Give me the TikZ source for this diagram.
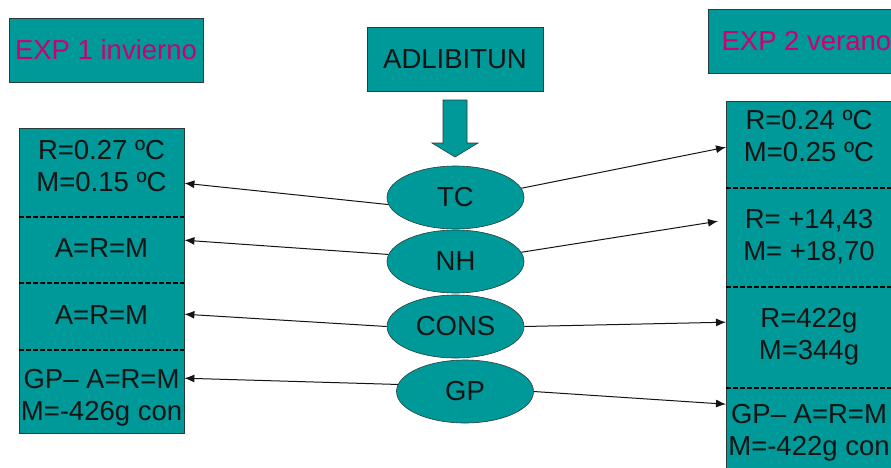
\documentclass[tikz,border=0pt]{standalone}
\usepackage{fontspec}
\setmainfont{Liberation Sans}
\usetikzlibrary{shapes.geometric,arrows.meta,calc}
\definecolor{tealfill}{RGB}{0,153,153}
\definecolor{edgecol}{RGB}{40,60,60}
\definecolor{titlecol}{RGB}{204,0,110}
\definecolor{txtcol}{RGB}{20,20,20}
\begin{document}
\begin{tikzpicture}[x=1pt,y=-1pt,
  bigtext/.style={font=\fontsize{27.5}{32}\selectfont, text=txtcol},
  titlebox/.style={draw=edgecol, fill=tealfill, line width=0.8pt, inner sep=0pt, font=\fontsize{27.5}{32}\selectfont},
  cell/.style={fill=tealfill, inner sep=0pt, anchor=north west},
  txt/.style={bigtext, align=center, inner sep=0pt},
  oval/.style={ellipse, draw=edgecol, fill=tealfill, line width=0.6pt, inner sep=0pt, minimum width=137pt, minimum height=63pt, bigtext},
  sep/.style={draw=black, dash pattern=on 4.5pt off 2.5pt, line width=2pt},
  conn/.style={draw=txtcol, line width=1pt, -{Latex[length=10pt,width=8pt]}}
]
\clip (0,0) rectangle (891,467);
\fill[white] (0,0) rectangle (891,467);

% title boxes
\node[titlebox, minimum width=194pt, minimum height=64pt, text=titlecol] (t1) at (106,50) {EXP 1 invierno};
\node[titlebox, minimum width=187pt, minimum height=64pt, text=titlecol, anchor=north west] (t2) at (708,9) {\hspace*{9pt}EXP 2 verano};
\node[titlebox, minimum width=176pt, minimum height=64pt, text=txtcol] (ad) at (455,59) {ADLIBITUN};

% block arrow
\draw[edgecol, fill=tealfill, line width=0.6pt] (443,100) -- (467,100) -- (467,143) -- (478,143) -- (455,157) -- (432,143) -- (443,143) -- cycle;

% left stack
\node[cell, minimum width=165pt, minimum height=89pt] (l1) at (19,128) {};
\node[cell, minimum width=165pt, minimum height=66pt] (l2) at (19,217) {};
\node[cell, minimum width=165pt, minimum height=67pt] (l3) at (19,283) {};
\node[cell, minimum width=165pt, minimum height=83pt] (l4) at (19,350) {};
\draw[edgecol, line width=0.8pt] (l1.north west) rectangle (l4.south east);
\draw[sep] (l1.south west) -- (l1.south east);
\draw[sep] (l2.south west) -- (l2.south east);
\draw[sep] (l3.south west) -- (l3.south east);
\node[txt] (lt1) at (101.5,166) {R=0.27 ºC\\M=0.15 ºC};
\node[txt] (lt2) at (101.5,248) {A=R=M};
\node[txt] (lt3) at (101.5,315) {A=R=M};
\node[txt] (lt4) at (101.5,397.5) {GP– A=R=M\\M=-426g con};

% right stack
\node[cell, minimum width=170pt, minimum height=87pt] (r1) at (726,101) {};
\node[cell, minimum width=170pt, minimum height=99pt] (r2) at (726,188) {};
\node[cell, minimum width=170pt, minimum height=101pt] (r3) at (726,287) {};
\node[cell, minimum width=170pt, minimum height=92pt] (r4) at (726,388) {};
\draw[edgecol, line width=0.8pt] (r1.north west) rectangle (r4.south east);
\draw[sep] (r1.south west) -- (r1.south east);
\draw[sep] (r2.south west) -- (r2.south east);
\draw[sep] (r3.south west) -- (r3.south east);
\node[txt] (rt1) at (809,136.5) {R=0.24 ºC\\M=0.25 ºC};
\node[txt] (rt2) at (809,237) {R= +14,43\\M= +18,70};
\node[txt] (rt3) at (809,337) {R=422g\\M=344g};
\node[txt] (rt4) at (809,433) {GP– A=R=M\\M=-422g con};

% ovals
\node[oval] (tc) at (455.5,197.5) {TC};
\node[oval] (nh) at (455.5,261.5) {NH};
\node[oval] (cons) at (455.5,326.5) {CONS};
\node[oval] (gp) at (465,391.5) {GP};

% connectors
\draw[conn] (tc.186) -- ($(l1.east)+(0,10.5)$);
\draw[conn] (tc.8) -- ($(r1.west)+(0,2.5)$);
\draw[conn] (nh.174) -- ($(l2.east)+(0,-10)$);
\draw[conn] (nh.8) -- ($(r2.west)+(-8,-16.5)$);
\draw[conn] (cons.west) -- ($(l3.east)+(0,-2.5)$);
\draw[conn] (cons.east) -- ($(r3.west)+(0,-15.5)$);
\draw[conn] (gp.174) -- ($(l4.east)+(0,-13.5)$);
\draw[conn] (gp.east) -- ($(r4.west)+(0,-30)$);
\end{tikzpicture}
\end{document}
